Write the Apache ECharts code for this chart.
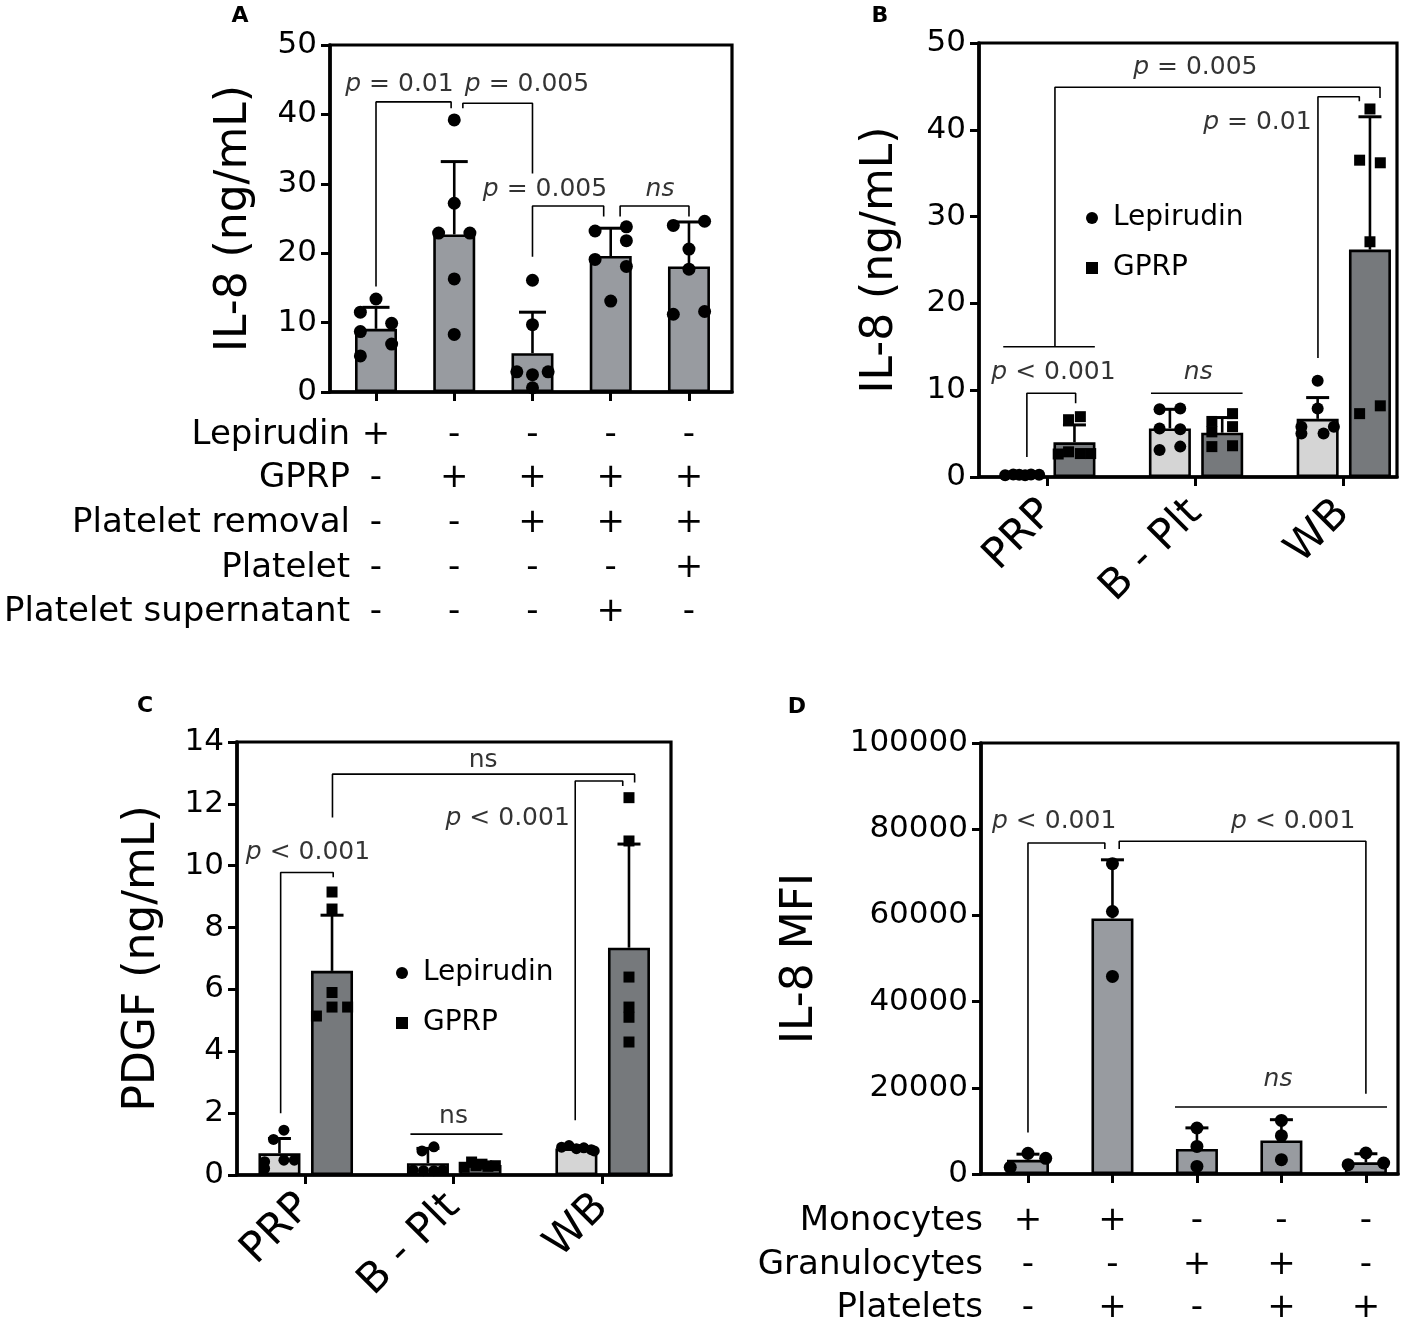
<!DOCTYPE html>
<html><head><meta charset="utf-8">
<script src="https://cdn.jsdelivr.net/npm/echarts@6/dist/echarts.min.js"></script>
<style>html,body{margin:0;padding:0;background:#fff}#c{width:1416px;height:1322px}</style>
</head><body><div id="c"></div>
<script>
const FONT = 'DejaVu Sans';

// ---------- Panel A : IL-8 (ng/mL), 5 conditions ----------
const aCols = [0, 1, 2, 3, 4];
const aBars = [9.1, 22.7, 5.6, 19.6, 18.1];
const aUpper = [12.2, 33.2, 11.5, 23.6, 24.5];
const aDots = [
  [[0, 13.4], [-0.2, 11.5], [0.2, 9.9], [-0.2, 8.7], [0.2, 6.9], [-0.2, 5.2]],
  [[0, 39.2], [0, 27.2], [-0.2, 22.9], [0.2, 22.9], [0, 16.3], [0, 8.3]],
  [[0, 16.1], [0, 9.7], [-0.2, 2.9], [0, 2.5], [0.2, 2.9], [0, 0.6]],
  [[-0.2, 23.2], [0.2, 23.8], [0.2, 21.8], [-0.2, 19.1], [0.2, 18.1], [0, 13.1]],
  [[-0.2, 24.0], [0.2, 24.6], [0, 20.6], [0, 17.7], [-0.2, 11.2], [0.2, 11.6]]
];
const aRowLabels = ['Lepirudin', 'GPRP', 'Platelet removal', 'Platelet', 'Platelet supernatant'];
const aRowSigns = [
  ['+', '-', '-', '-', '-'],
  ['-', '+', '+', '+', '+'],
  ['-', '-', '+', '+', '+'],
  ['-', '-', '-', '-', '+'],
  ['-', '-', '-', '+', '-']
];
const aBrackets = [
  [[0, 15.2], [0, 41.8], [0.96, 41.8], [0.96, 40.9]],
  [[1.11, 40.9], [1.11, 41.6], [2, 41.6], [2, 31.5]],
  [[2, 19.5], [2, 26.8], [2.91, 26.8], [2.91, 25.3]],
  [[3.12, 25.3], [3.12, 26.8], [4, 26.8], [4, 25.3]]
];
const aNotes = [
  [0.30, 44.3, '{i|p} = 0.01'],
  [1.93, 44.3, '{i|p} = 0.005'],
  [2.16, 29.2, '{i|p} = 0.005'],
  [3.63, 29.2, '{i|ns}']
];

// ---------- Panel B : IL-8 (ng/mL), PRP / B-Plt / WB ----------
const bCats = ['PRP', 'B - Plt', 'WB'];
const bLep = [0.25, 5.6, 6.7];
const bLepUpper = [0.4, 7.8, 9.15];
const bGprp = [4.0, 5.1, 26.2];
const bGprpUpper = [6.0, 6.85, 41.5];
const bLepDots = [
  [[-0.115, 0.2], [-0.06, 0.3], [-0.02, 0.25], [0.02, 0.2], [0.06, 0.3], [0.115, 0.25]],
  [[-0.07, 7.8], [0.07, 7.9], [-0.07, 5.6], [0.07, 5.5], [-0.07, 3.1], [0.07, 3.5]],
  [[0, 11.1], [0, 7.9], [-0.11, 5.8], [0.11, 5.8], [0.04, 5.0], [-0.11, 5.0]]
];
const bGprpDots = [
  [[-0.04, 6.6], [0.04, 6.95], [-0.11, 2.65], [-0.04, 2.9], [0.04, 2.7], [0.11, 2.7]],
  [[0.07, 7.3], [-0.07, 6.4], [-0.07, 5.2], [0.07, 5.8], [-0.07, 3.5], [0.07, 3.6]],
  [[0, 42.4], [-0.07, 36.5], [0.07, 36.2], [0, 27.1], [-0.07, 7.3], [0.07, 8.2]]
];
const bBrackets = [
  [[-0.14, 2.3], [-0.14, 9.65], [0.19, 9.65], [0.19, 8.5]],
  [[-0.30, 15.0], [0.32, 15.0]],
  [[0.05, 15.0], [0.05, 44.9], [2.25, 44.9], [2.25, 43.65]],
  [[1.83, 13.7], [1.83, 43.8], [2.11, 43.8], [2.11, 43.3]],
  [[0.70, 9.65], [1.32, 9.65]]
];
const bNotes = [
  [0.04, 12.0, '{i|p} < 0.001'],
  [1.0, 47.2, '{i|p} = 0.005'],
  [1.42, 40.8, '{i|p} = 0.01'],
  [1.02, 12.0, '{i|ns}']
];

// ---------- Panel C : PDGF (ng/mL) ----------
const cCats = ['PRP', 'B - Plt', 'WB'];
const cLep = [0.70, 0.38, 0.86];
const cLepUpper = [1.18, 0.86, 0.95];
const cGprp = [6.6, 0.32, 7.35];
const cGprpUpper = [8.4, 0.42, 10.7];
const cLepDots = [
  [[0.03, 1.45], [-0.04, 1.15], [0.03, 0.48], [0.1, 0.48], [-0.1, 0.21], [-0.1, 0.43]],
  [[-0.04, 0.78], [0.04, 0.91], [-0.1, 0.16], [-0.03, 0.14], [0.04, 0.14], [0.1, 0.16]],
  [[-0.1, 0.9], [-0.05, 0.95], [0, 0.85], [0.05, 0.88], [0.1, 0.82], [0.12, 0.78]]
];
const cGprpDots = [
  [[0, 9.15], [0, 8.6], [0, 5.9], [0, 5.43], [-0.105, 5.14], [0.105, 5.43]],
  [[-0.06, 0.42], [0.01, 0.35], [0.1, 0.3], [-0.11, 0.25], [0.05, 0.28], [-0.03, 0.3]],
  [[0, 12.2], [0, 10.8], [0, 6.4], [0, 5.43], [0, 5.1], [0, 4.3]]
];
const cBrackets = [
  [[-0.164, 2.0], [-0.164, 9.78], [0.19, 9.78], [0.19, 9.63]],
  [[0.185, 11.56], [0.185, 12.96], [2.22, 12.96], [2.22, 12.69]],
  [[1.82, 1.77], [1.82, 12.74], [2.14, 12.74], [2.14, 12.58]],
  [[0.71, 1.32], [1.33, 1.32]]
];
const cNotes = [
  [0.02, 10.42, '{i|p} < 0.001'],
  [1.2, 13.39, 'ns'],
  [1.365, 11.52, '{i|p} < 0.001'],
  [1.0, 1.88, 'ns']
];

// ---------- Panel D : IL-8 MFI ----------
const dCols = [0, 1, 2, 3, 4];
const dBars = [3300, 59300, 5800, 7800, 2700];
const dUpper = [4600, 72900, 10700, 12600, 4700];
const dDots = [
  [[0, 4800], [0.21, 3640], [-0.21, 1550]],
  [[0, 72000], [0, 60900], [0, 45850]],
  [[0, 10670], [0, 6400], [0, 1760]],
  [[0, 12440], [0, 8890], [0, 3320]],
  [[0, 4870], [-0.21, 2160], [0.21, 2550]]
];
const dRowLabels = ['Monocytes', 'Granulocytes', 'Platelets'];
const dRowSigns = [
  ['+', '+', '-', '-', '-'],
  ['-', '-', '+', '+', '-'],
  ['-', '+', '-', '+', '+']
];
const dBrackets = [
  [[0, 9650], [0, 76800], [0.91, 76800], [0.91, 75400]],
  [[1.08, 75400], [1.08, 77200], [4, 77200], [4, 18630]],
  [[1.74, 15550], [4.25, 15550]]
];
const dNotes = [
  [0.31, 81800, '{i|p} < 0.001'],
  [3.14, 81800, '{i|p} < 0.001'],
  [2.96, 21900, '{i|ns}']
];

// ---------- styling constants ----------
const GRAY = '#989ba0', LIGHT = '#d5d5d5', DARK = '#76797c';
const LEP_OFF = -0.172, GPRP_OFF = 0.182;

const series = [];
const ax = gi => ({ xAxisIndex: gi, yAxisIndex: gi });

function addBars(gi, items) {
  series.push(Object.assign({
    type: 'bar', barWidth: 42, silent: true, z: 2,
    itemStyle: { borderColor: '#000', borderWidth: 2.6 },
    data: items.map(it => ({ value: [it[0], it[1]], itemStyle: { color: it[2] } }))
  }, ax(gi)));
}
function addErr(gi, items, cap) {
  series.push(Object.assign({
    type: 'custom', silent: true, z: 3, data: items, encode: { x: 0, y: [1, 2] },
    renderItem(params, api) {
      const x = api.value(0), m = api.value(1), u = api.value(2);
      const a = api.coord([x, m]), b = api.coord([x, u]);
      return { type: 'group', children: [
        { type: 'line', shape: { x1: a[0], y1: a[1], x2: b[0], y2: b[1] }, style: { stroke: '#000', lineWidth: 2.6 } },
        { type: 'line', shape: { x1: b[0] - cap / 2, y1: b[1], x2: b[0] + cap / 2, y2: b[1] }, style: { stroke: '#000', lineWidth: 3 } }
      ] };
    }
  }, ax(gi)));
}
function addDots(gi, name, symbol, size, pts) {
  series.push(Object.assign({
    type: 'scatter', name, symbol, symbolSize: size, silent: true, z: 4,
    itemStyle: { color: '#000', opacity: 1 }, data: pts
  }, ax(gi)));
}
function addBrackets(gi, list) {
  list.forEach(pts => series.push(Object.assign({
    type: 'line', data: pts, symbol: 'none', silent: true, z: 5, clip: false,
    lineStyle: { color: '#000', width: 1.6 }
  }, ax(gi))));
}
function addNotes(gi, list) {
  series.push(Object.assign({
    type: 'scatter', symbolSize: 1, silent: true, z: 6, clip: false,
    itemStyle: { color: 'rgba(0,0,0,0)' },
    data: list.map(t => ({ value: [t[0], t[1]], name: t[2] })),
    label: {
      show: true, position: 'inside', formatter: '{b}', fontSize: 25, fontFamily: FONT, color: '#000',
      textBorderWidth: 0,
      rich: { i: { fontStyle: 'italic', fontSize: 25, fontFamily: FONT, color: '#000', textBorderWidth: 0 } }
    }
  }, ax(gi)));
}

// Panel A series
addBars(0, aCols.map(i => [i, aBars[i], GRAY]));
addErr(0, aCols.map(i => [i, aBars[i], aUpper[i]]), 27);
addDots(0, 'A', 'circle', 13, aDots.flatMap((g, i) => g.map(p => [i + p[0], p[1]])));
addBrackets(0, aBrackets);
addNotes(0, aNotes);

// Panel B series
addBars(1, bCats.flatMap((c, i) => [[i + LEP_OFF, bLep[i], LIGHT], [i + GPRP_OFF, bGprp[i], DARK]]));
addErr(1, bCats.flatMap((c, i) => [[i + LEP_OFF, bLep[i], bLepUpper[i]], [i + GPRP_OFF, bGprp[i], bGprpUpper[i]]]), 23);
addDots(1, 'Lepirudin', 'circle', 12, bLepDots.flatMap((g, i) => g.map(p => [i + LEP_OFF + p[0], p[1]])));
addDots(1, 'GPRP', 'rect', 11, bGprpDots.flatMap((g, i) => g.map(p => [i + GPRP_OFF + p[0], p[1]])));
addBrackets(1, bBrackets);
addNotes(1, bNotes);

// Panel C series
addBars(2, cCats.flatMap((c, i) => [[i + LEP_OFF, cLep[i], LIGHT], [i + GPRP_OFF, cGprp[i], DARK]]));
addErr(2, cCats.flatMap((c, i) => [[i + LEP_OFF, cLep[i], cLepUpper[i]], [i + GPRP_OFF, cGprp[i], cGprpUpper[i]]]), 23);
addDots(2, 'Lepirudin', 'circle', 11, cLepDots.flatMap((g, i) => g.map(p => [i + LEP_OFF + p[0], p[1]])));
addDots(2, 'GPRP', 'rect', 11, cGprpDots.flatMap((g, i) => g.map(p => [i + GPRP_OFF + p[0], p[1]])));
addBrackets(2, cBrackets);
addNotes(2, cNotes);

// Panel D series
addBars(3, dCols.map(i => [i, dBars[i], GRAY]));
addErr(3, dCols.map(i => [i, dBars[i], dUpper[i]]), 23);
addDots(3, 'D', 'circle', 13, dDots.flatMap((g, i) => g.map(p => [i + p[0], p[1]])));
addBrackets(3, dBrackets);
addNotes(3, dNotes);

function grid(left, top, width, height) {
  return { left, top, width, height, show: true, borderColor: '#000', borderWidth: 3.2,
    backgroundColor: 'rgba(0,0,0,0)', containLabel: false, outerBoundsMode: 'none' };
}
function yAx(gi, max, interval, name, nameGap) {
  return {
    type: 'value', gridIndex: gi, min: 0, max, interval,
    axisLine: { show: true, onZero: false, lineStyle: { color: '#000', width: 3.5 } },
    axisTick: { show: true, length: 9, lineStyle: { color: '#000', width: 3 } },
    splitLine: { show: false },
    axisLabel: { fontSize: 31, fontFamily: FONT, color: '#000', margin: 13, formatter: v => String(v) },
    name, nameLocation: 'middle', nameGap, nameRotate: 90,
    nameTextStyle: { fontSize: 44, fontFamily: FONT, color: '#000' }
  };
}
function xAx(gi, min, max, ticks, labels, margin) {
  return {
    type: 'value', gridIndex: gi, min, max,
    axisLine: { show: true, onZero: false, lineStyle: { color: '#000', width: 3.5 } },
    axisTick: { show: true, customValues: ticks, length: 9, lineStyle: { color: '#000', width: 3 } },
    splitLine: { show: false },
    axisLabel: labels ? { show: true, customValues: ticks, formatter: v => labels[Math.round(v)],
      rotate: 45, fontSize: 42, fontFamily: FONT, color: '#000', margin } : { show: false }
  };
}
function legend(left, top) {
  return {
    left, top, orient: 'vertical', itemWidth: 12, itemHeight: 12, itemGap: 22, selectedMode: false,
    textStyle: { fontSize: 28, fontFamily: FONT, color: '#000', padding: [0, 0, 0, 10] },
    data: [{ name: 'Lepirudin', icon: 'circle' }, { name: 'GPRP', icon: 'rect' }]
  };
}

const option = {
  animation: false,
  backgroundColor: '#fff',
  grid: [grid(330, 45, 402, 347), grid(979, 43, 418, 434), grid(237, 742, 434, 433), grid(981, 743, 417, 431)],
  xAxis: [
    xAx(0, -0.588, 4.55, aCols, null),
    xAx(1, -0.464, 2.365, [0, 1, 2], bCats, 30),
    xAx(2, -0.458, 2.465, [0, 1, 2], cCats, 26),
    xAx(3, -0.556, 4.38, dCols, null)
  ],
  yAxis: [
    yAx(0, 50, 10, 'IL-8 (ng/mL)', 73),
    yAx(1, 50, 10, 'IL-8 (ng/mL)', 76),
    yAx(2, 14, 2, 'PDGF (ng/mL)', 72),
    yAx(3, 100000, 20000, 'IL-8 MFI', 158)
  ],
  legend: [legend(1081, 199), legend(391, 954)],
  series
};

const chart = echarts.init(document.getElementById('c'), null, { renderer: 'canvas' });
chart.setOption(option);

// table rows & panel letters
function txt(x, y, s, align, size, weight) {
  return { type: 'text', x, y, silent: true, z: 10,
    style: { text: s, align, verticalAlign: 'middle', fontSize: size, fontFamily: FONT, fontWeight: weight || 'normal', fill: '#000' } };
}
const gfx = [];
const aRowY = [435, 478, 523, 568, 612];
aRowLabels.forEach((lab, r) => {
  gfx.push(txt(350, aRowY[r], lab, 'right', 34));
  aRowSigns[r].forEach((s, i) => gfx.push(txt(chart.convertToPixel({ xAxisIndex: 0 }, i), aRowY[r], s, 'center', 34)));
});
const dRowY = [1221, 1265, 1308];
dRowLabels.forEach((lab, r) => {
  gfx.push(txt(983, dRowY[r], lab, 'right', 34));
  dRowSigns[r].forEach((s, i) => gfx.push(txt(chart.convertToPixel({ xAxisIndex: 3 }, i), dRowY[r], s, 'center', 34)));
});
gfx.push(txt(240, 16, 'A', 'center', 22, 'bold'));
gfx.push(txt(880, 16, 'B', 'center', 22, 'bold'));
gfx.push(txt(145, 706, 'C', 'center', 22, 'bold'));
gfx.push(txt(797, 707, 'D', 'center', 22, 'bold'));
chart.setOption({ graphic: gfx });
</script>
</body></html>
